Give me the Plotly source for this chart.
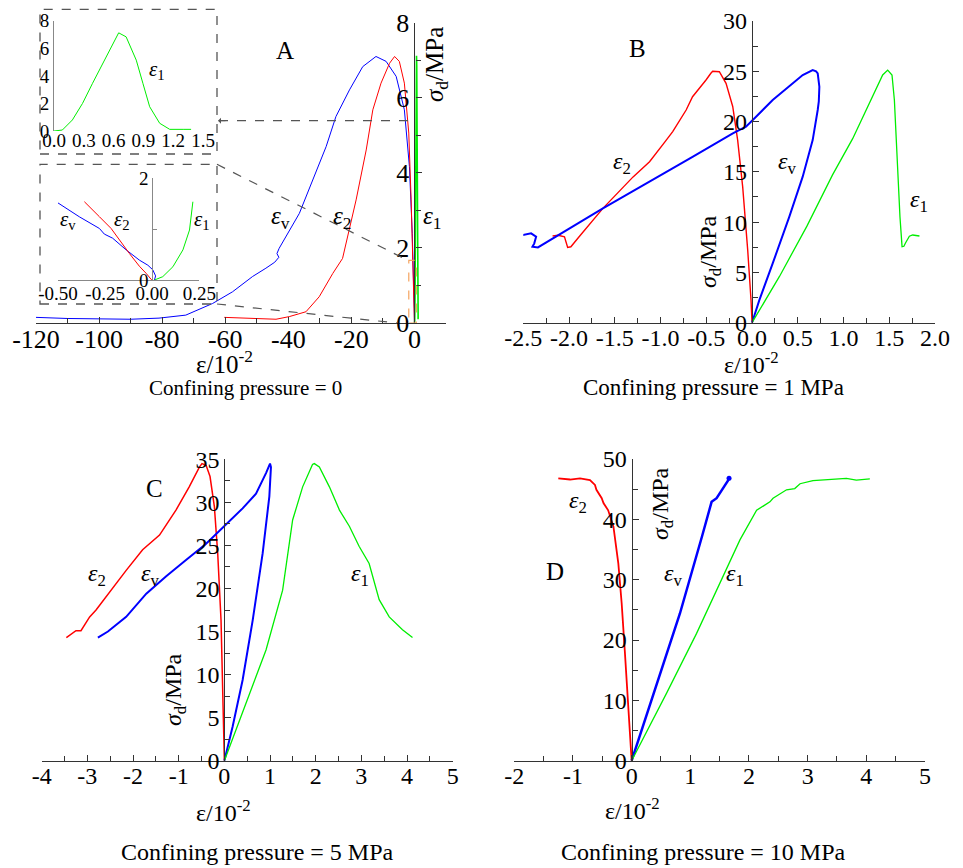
import plotly.graph_objects as go

W, H = 963, 868
FONT = "Liberation Serif"
RED, BLUE, GREEN = "#ff0000", "#0000ff", "#00ee00"
AX = "#333333"

# ---------------- data ----------------
# Panel A (confining pressure = 0)
A_ev_x = [0, 0.012, 0.018, 0.003, -0.023, -0.068, -0.138, -0.21, -0.28, -0.387, -0.502, -0.7, -1.6, -3.2, -5.8, -9.0, -12.2,
          -16.4, -20.6, -24.9, -28.0, -32.3, -36.5, -42.9, -43.6, -43.0, -44.3, -47.1, -51.3, -57.7, -64.0, -72.5,
          -81.0, -90.0, -100.0, -110.0, -120.0]
A_ev_y = [0, 0.0, 0.08, 0.2, 0.29, 0.39, 0.59, 0.82, 1.01, 1.24, 1.52, 2.39, 4.17, 5.68, 6.57, 6.97, 7.1,
          6.83, 6.21, 5.5, 4.7, 3.81, 2.92, 1.99, 1.85, 1.75, 1.62, 1.46, 1.24, 0.83, 0.52, 0.21,
          0.13, 0.1, 0.1, 0.12, 0.15]
A_e2_x = [0, -0.005, -0.032, -0.068, -0.121, -0.174, -0.218, -0.28, -0.36, -0.5, -1.05, -1.8, -3.2, -4.8, -6.3,
          -7.9, -10.6, -13.2, -15.3, -18.5, -21.7, -22.3, -22.8, -25.9, -30.2, -34.4, -39.7, -43.9, -51.3, -60.3]
A_e2_y = [0, 0.01, 0.13, 0.27, 0.52, 0.78, 1.01, 1.24, 1.535, 1.9, 3.28, 5.06, 6.39, 6.97, 7.1,
          6.92, 6.39, 5.68, 4.61, 3.28, 2.12, 1.95, 1.72, 1.32, 0.7, 0.3, 0.17, 0.1, 0.13, 0.15]
A_e1_x = [0, 0.084, 0.185, 0.287, 0.388, 0.489, 0.59, 0.651, 0.726, 0.828, 0.895, 0.963, 1.064, 1.165, 1.3, 1.38]
A_e1_y = [0, 0.07, 0.8, 2.0, 3.46, 4.9, 6.36, 7.12, 6.83, 5.14, 3.46, 1.76, 0.56, 0.12, 0.12, 0.12]

# Inset (zoom of panel A near origin)
I_ev_x = [0.012, 0.018, 0.003, -0.023, -0.068, -0.138, -0.21, -0.254, -0.28, -0.387, -0.502]
I_ev_y = [0.0, 0.08, 0.2, 0.29, 0.39, 0.59, 0.82, 0.90, 1.01, 1.24, 1.516]
I_e2_x = [0, -0.005, -0.032, -0.068, -0.121, -0.174, -0.218, -0.28, -0.36]
I_e2_y = [0, 0.01, 0.13, 0.27, 0.52, 0.78, 1.01, 1.24, 1.535]
I_e1_x = [0.012, 0.056, 0.11, 0.163, 0.198, 0.216]
I_e1_y = [0, 0.065, 0.26, 0.59, 0.98, 1.535]

# Panel B (confining pressure = 1 MPa)
B_e2_x = [0, -0.011, -0.047, -0.102, -0.157, -0.211, -0.284, -0.357, -0.43, -0.45, -0.503, -0.65, -0.72, -0.867,
          -0.95, -1.12, -1.3, -1.63, -1.89, -1.98, -2.015, -2.03, -2.05, -2.12, -2.18]
B_e2_y = [0, 2.25, 7.2, 13.5, 18.16, 21.5, 23.8, 24.96, 25.0, 24.8, 24.13, 22.47, 21.15, 19.0,
          18.0, 16.0, 14.5, 11.37, 8.55, 7.55, 7.49, 8.05, 8.55, 8.7, 8.62]
B_ev_x = [0, 0.08, 0.226, 0.408, 0.554, 0.663, 0.718, 0.73, 0.736, 0.718, 0.70, 0.663, 0.554, 0.444, 0.226,
          0.044, -0.066, -0.21, -0.65, -1.63, -2.34, -2.40, -2.38, -2.36, -2.415, -2.507]
B_ev_y = [0, 2.25, 5.9, 10.54, 14.52, 18.16, 21.15, 22.0, 23.47, 24.8, 25.0, 25.12, 24.63, 23.8, 22.14,
          20.48, 19.49, 18.83, 16.48, 11.37, 7.49, 7.55, 7.89, 8.55, 8.89, 8.72]
B_e1_x = [0, 0.3, 0.6, 0.88, 1.1, 1.319, 1.428, 1.483, 1.53, 1.556, 1.59, 1.617, 1.64, 1.66, 1.676, 1.72,
          1.756, 1.8, 1.83]
B_e1_y = [0, 4.6, 9.6, 14.7, 18.3, 22.47, 24.63, 25.12, 24.63, 22.14, 15.5, 10.54, 7.56, 7.6, 7.9, 8.6,
          8.72, 8.7, 8.62]

# Panel C (confining pressure = 5 MPa)
C_e2_x = [0, -0.036, -0.073, -0.146, -0.219, -0.314, -0.40, -0.49, -0.547, -0.77, -1.06, -1.42, -1.79, -2.15,
          -2.59, -2.81, -2.95, -3.14, -3.25, -3.46]
C_e2_y = [0, 8.6, 16.3, 24.1, 29.5, 33.0, 34.3, 34.5, 34.1, 31.8, 29.1, 26.2, 24.5, 22.1,
          19.05, 17.5, 16.7, 15.1, 15.1, 14.3]
C_ev_x = [0, 0.18, 0.40, 0.62, 0.839, 0.985, 1.02, 1.0, 0.912, 0.693, 0.40, 0.036, -0.40, -0.84, -1.28,
          -1.71, -2.15, -2.55, -2.77]
C_ev_y = [0, 3.95, 9.37, 16.3, 24.1, 30.7, 34.1, 34.5, 33.4, 31.0, 29.3, 27.4, 25.2, 23.3, 21.4,
          19.4, 16.7, 15.0, 14.3]
C_e1_x = [0, 0.33, 0.912, 1.276, 1.495, 1.714, 1.93, 1.97, 2.08, 2.30, 2.52, 2.74, 2.95, 3.17, 3.39, 3.61,
          3.90, 4.12]
C_e1_y = [0, 4.72, 12.85, 19.8, 27.95, 31.8, 34.4, 34.5, 34.1, 31.8, 29.1, 27.2, 24.9, 22.9, 18.7, 16.7,
          15.2, 14.3]

# Panel D (confining pressure = 10 MPa)
D_e2_x = [0, -0.057, -0.114, -0.17, -0.227, -0.31, -0.40, -0.48, -0.51, -0.6, -0.625, -0.71, -0.88, -1.05, -1.25]
D_e2_y = [0, 9.5, 17.8, 26.1, 32.7, 38.8, 41.5, 42.7, 43.5, 44.9, 45.7, 46.5, 46.8, 46.6, 46.8]
D_ev_x = [0, 0.4, 0.823, 1.2, 1.363, 1.448, 1.56, 1.647, 1.66]
D_ev_y = [0, 12.0, 24.4, 37.2, 42.9, 43.5, 45.1, 46.5, 46.8]
D_e1_x = [0, 0.596, 1.107, 1.505, 1.846, 2.13, 2.357, 2.41, 2.64, 2.78, 2.87, 3.09, 3.44, 3.66, 3.83, 4.06]
D_e1_y = [0, 11.2, 21.1, 29.4, 36.6, 41.5, 42.9, 43.5, 44.9, 45.1, 45.9, 46.4, 46.6, 46.8, 46.5, 46.7]

# ---------------- helpers ----------------
def px(x):
    return x / W

def py(y):
    return 1 - y / H

fig = go.Figure()

def add(x, y, ax, color, width):
    fig.add_trace(go.Scatter(x=x, y=y, mode="lines", xaxis=ax[0], yaxis=ax[1],
                             line=dict(color=color, width=width), showlegend=False,
                             hoverinfo="skip"))

# panel A
add(A_ev_x, A_ev_y, ("x", "y"), BLUE, 1)
add(A_e2_x, A_e2_y, ("x", "y"), RED, 1)
add(A_e1_x, A_e1_y, ("x", "y"), GREEN, 1.6)
# inset 1
add(A_e1_x, A_e1_y, ("x5", "y5"), GREEN, 1)
# inset 2
add(I_ev_x, I_ev_y, ("x6", "y6"), BLUE, 1)
add(I_e2_x, I_e2_y, ("x6", "y6"), RED, 1)
add(I_e1_x, I_e1_y, ("x6", "y6"), GREEN, 1)
# panel B
add(B_e2_x, B_e2_y, ("x2", "y2"), RED, 1.4)
add(B_ev_x, B_ev_y, ("x2", "y2"), BLUE, 2)
add(B_e1_x, B_e1_y, ("x2", "y2"), GREEN, 1.3)
# panel C
add(C_e2_x, C_e2_y, ("x3", "y3"), RED, 1.5)
add(C_ev_x, C_ev_y, ("x3", "y3"), BLUE, 2)
add(C_e1_x, C_e1_y, ("x3", "y3"), GREEN, 1.3)
# panel D
add(D_e2_x, D_e2_y, ("x4", "y4"), RED, 1.8)
add(D_ev_x, D_ev_y, ("x4", "y4"), BLUE, 2.5)
add(D_e1_x, D_e1_y, ("x4", "y4"), GREEN, 1.3)
fig.add_trace(go.Scatter(x=[D_ev_x[-1]], y=[D_ev_y[-1]], mode="markers", xaxis="x4", yaxis="y4",
                         marker=dict(color=BLUE, size=5), showlegend=False, hoverinfo="skip"))

def lab(v, fmt):
    return [(fmt.format(t)).replace("\u2212", "-") for t in v]

def frange(a, b, s):
    out = []
    n = int(round((b - a) / s))
    for i in range(n + 1):
        out.append(round(a + i * s, 6))
    return out

panels = [
    # name, xpix range, ypix range, xr, yr, xmaj, xfmt, xminor, ymaj, yfmt, yminor, tick font size
    ("", (36, 446), (323, 22.7), (-120, 10), (0, 8), frange(-120, 0, 20), "{:.0f}", frange(-110, 10, 20),
     frange(0, 8, 2), "{:.0f}", frange(1, 7, 2), 26),
    ("2", (523.3, 935), (322.7, 21), (-2.5, 2.0), (0, 30), frange(-2.5, 2.0, 0.5), "{:.1f}", frange(-2.25, 1.75, 0.5),
     frange(0, 30, 5), "{:.0f}", frange(2.5, 27.5, 5), 24),
    ("3", (41.7, 452.7), (760.7, 459.3), (-4, 5), (0, 35), frange(-4, 5, 1), "{:.0f}", frange(-3.5, 4.5, 1),
     frange(0, 35, 5), "{:.0f}", frange(2.5, 32.5, 5), 24),
    ("4", (514.3, 925), (760.7, 459), (-2, 5), (0, 50), frange(-2, 5, 1), "{:.0f}", frange(-1.5, 4.5, 1),
     frange(0, 50, 10), "{:.0f}", frange(5, 45, 10), 24),
]

layout = dict(width=W, height=H, margin=dict(l=0, r=0, t=0, b=0, pad=0, autoexpand=False),
              paper_bgcolor="white", plot_bgcolor="rgba(0,0,0,0)", showlegend=False,
              font=dict(family=FONT, color="black"))

for name, xp, yp, xr, yr, xmaj, xfmt, xmin, ymaj, yfmt, ymin, fs in panels:
    tickfont = dict(family=FONT, size=fs, color="black")
    xd = [px(xp[0]), px(xp[1])]
    yd = [py(yp[0]), py(yp[1])]
    pos = xd[0] + (0 - xr[0]) / (xr[1] - xr[0]) * (xd[1] - xd[0])
    layout["xaxis" + name] = dict(domain=xd, range=list(xr), anchor="y" + name, showline=True, linecolor=AX,
                                  linewidth=1.2, ticks="inside", ticklen=6, tickcolor=AX, tickwidth=1.2,
                                  tickmode="array", tickvals=xmaj, ticktext=lab(xmaj, xfmt),
                                  minor=dict(tickmode="array", tickvals=xmin, ticks="inside", ticklen=5,
                                             tickcolor=AX, tickwidth=1.2),
                                  showgrid=False, zeroline=False, tickfont=tickfont, ticklabelstandoff=-7,
                                  automargin=False)
    layout["yaxis" + name] = dict(domain=yd, range=list(yr), anchor="free", position=pos, showline=True,
                                  linecolor=AX, linewidth=1.2, ticks="inside", ticklen=6, tickcolor=AX,
                                  tickwidth=1.2, tickmode="array", tickvals=ymaj, ticktext=lab(ymaj, yfmt),
                                  minor=dict(tickmode="array", tickvals=ymin, ticks="inside", ticklen=5,
                                             tickcolor=AX, tickwidth=1.2),
                                  showgrid=False, zeroline=False, tickfont=tickfont, ticklabelstandoff=0,
                                  automargin=False)

# insets
insfont = dict(family=FONT, size=19, color="black")
x5 = [0, 0.3, 0.6, 0.9, 1.2, 1.5]
y5 = [0, 2, 4, 6, 8]
layout["xaxis5"] = dict(domain=[px(54), px(203)], range=[0, 1.5], anchor="y5", showline=False,
                        tickmode="array", tickvals=x5, ticktext=lab(x5, "{:.1f}"), ticks="",
                        showgrid=False, zeroline=False, tickfont=insfont, ticklabelstandoff=-4,
                        automargin=False)
layout["yaxis5"] = dict(domain=[py(131), py(20.7)], range=[0, 8], anchor="x5", showline=True,
                        linecolor="#888888", linewidth=1, tickmode="array", tickvals=y5,
                        ticktext=lab(y5, "{:.0f}"), ticks="", showgrid=False, zeroline=False,
                        tickfont=insfont, ticklabelstandoff=0, automargin=False)
x6 = [-0.5, -0.25, 0, 0.25]
x6r = [-0.5, 0.25]
x6d = [px(58), px(199.3)]
layout["xaxis6"] = dict(domain=x6d, range=x6r, anchor="y6", showline=True, linecolor="#888888",
                        linewidth=1, tickmode="array", tickvals=x6, ticktext=lab(x6, "{:.2f}"), ticks="",
                        showgrid=False, zeroline=False, tickfont=insfont, ticklabelstandoff=-4,
                        automargin=False)
pos6 = x6d[0] + (0 - x6r[0]) / (x6r[1] - x6r[0]) * (x6d[1] - x6d[0])
layout["yaxis6"] = dict(domain=[py(280), py(178)], range=[0, 2], anchor="free", position=pos6,
                        showline=True, linecolor="#888888", linewidth=1, tickmode="array", tickvals=[0, 2],
                        ticktext=["0", "2"], ticks="inside", ticklen=4, tickcolor="#888888",
                        minor=dict(tickmode="array", tickvals=[1], ticks="inside", ticklen=4,
                                   tickcolor="#888888"),
                        showgrid=False, zeroline=False, tickfont=insfont, ticklabelstandoff=0,
                        automargin=False)

# shapes
DASH = "#555555"
shapes = [
    dict(type="rect", xref="paper", yref="paper", x0=px(40), x1=px(217), y0=py(154), y1=py(9.3),
         line=dict(color=DASH, width=1.3, dash="dash")),
    dict(type="rect", xref="paper", yref="paper", x0=px(40), x1=px(217), y0=py(304), y1=py(164.3),
         line=dict(color=DASH, width=1.3, dash="dash")),
    dict(type="line", xref="paper", yref="paper", x0=px(219), x1=px(411), y0=py(120.7), y1=py(120.7),
         line=dict(color=DASH, width=1.2, dash="dash")),
    dict(type="line", xref="paper", yref="paper", x0=px(217), x1=px(408), y0=py(164.3), y1=py(260.5),
         line=dict(color=DASH, width=1.2, dash="dash")),
    dict(type="line", xref="paper", yref="paper", x0=px(217), x1=px(397), y0=py(304), y1=py(323),
         line=dict(color=DASH, width=1.2, dash="dash")),
    dict(type="rect", xref="x", yref="y", x0=-1.8, x1=0.6, y0=0, y1=1.67,
         line=dict(color="#f4a460", width=1.2, dash="dash")),
]
layout["shapes"] = shapes

ann = []

def text(x, y, t, size=24, angle=0, xa="center"):
    ann.append(dict(xref="paper", yref="paper", x=px(x), y=py(y), text=t, showarrow=False,
                    font=dict(family=FONT, size=size, color="black"), textangle=angle,
                    xanchor=xa, yanchor="middle"))

E = lambda s: "<i>ε</i><sub>" + s + "</sub>"
SIG = "<i>σ</i><sub>d</sub>/MPa"
XT = "ε/10<sup>-2</sup>"

# panel letters
text(285, 50, "A", 25)
text(637, 49, "B", 25)
text(154, 488, "C", 25)
text(555, 571, "D", 25)
# curve labels
text(280, 217, E("v"), 25)
text(342, 218, E("2"), 25)
text(432, 217, E("1"), 25)
text(157, 70, E("1"), 21)
text(68, 220, E("v"), 21)
text(122, 220, E("2"), 21)
text(202, 220, E("1"), 21)
text(622, 163, E("2"))
text(787, 163, E("v"))
text(919, 201, E("1"))
text(97, 575, E("2"))
text(150, 575, E("v"))
text(360, 575, E("1"))
text(578, 502, E("2"))
text(673, 575, E("v"))
text(735, 575, E("1"))
# axis titles
text(437, 65, SIG, 25, -90)
text(710, 252, SIG, 24, -90)
text(175, 690, SIG, 24, -90)
text(662, 504, SIG, 24, -90)
text(224, 362, XT, 25)
text(751, 363, XT)
text(223, 811, XT)
text(632, 809, XT)
# subtitles
text(245, 388, "Confining pressure = 0", 21)
text(713, 388, "Confining pressure = 1 MPa", 23)
text(257, 852, "Confining pressure = 5 MPa")
text(703, 852, "Confining pressure = 10 MPa")

# arrow head pointing to inset
ann.append(dict(xref="paper", yref="paper", x=px(218), y=py(120.7), ax=9, ay=0, text="", showarrow=True,
                arrowhead=1, arrowsize=1, arrowwidth=1, arrowcolor=DASH))
layout["annotations"] = ann

fig.update_layout(**layout)
fig.write_html("out.html")
